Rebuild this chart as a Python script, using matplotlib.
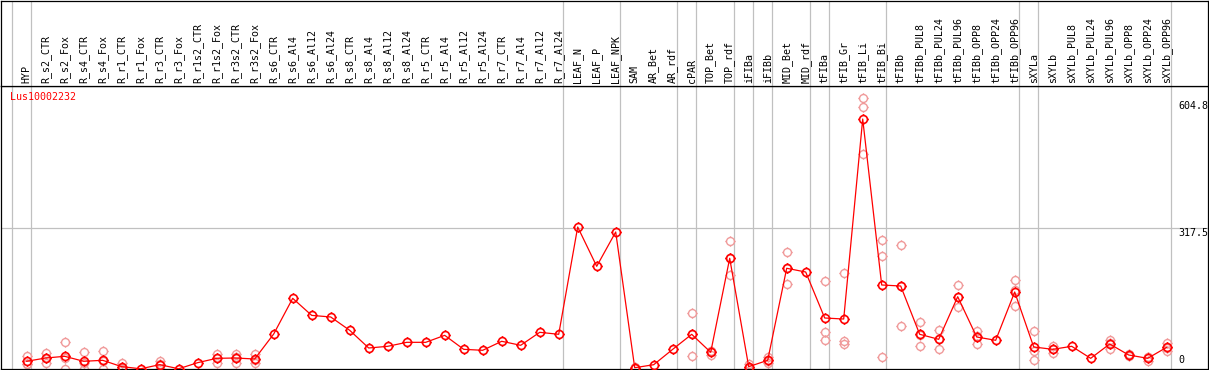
import matplotlib
matplotlib.use("Agg")
import matplotlib.pyplot as plt
from matplotlib.path import Path
import numpy as np

# sample names, in plot order
labels = [
    "HYP", "R_s2_CTR", "R_s2_Fox", "R_s4_CTR", "R_s4_Fox", "R_r1_CTR", "R_r1_Fox",
    "R_r3_CTR", "R_r3_Fox", "R_r1s2_CTR", "R_r1s2_Fox", "R_r3s2_CTR", "R_r3s2_Fox",
    "R_s6_CTR", "R_s6_Al4", "R_s6_Al12", "R_s6_Al24", "R_s8_CTR", "R_s8_Al4",
    "R_s8_Al12", "R_s8_Al24", "R_r5_CTR", "R_r5_Al4", "R_r5_Al12", "R_r5_Al24",
    "R_r7_CTR", "R_r7_Al4", "R_r7_Al12", "R_r7_Al24", "LEAF_N", "LEAF_P", "LEAF_NPK",
    "SAM", "AR_Bet", "AR_rdf", "cPAR", "TOP_Bet", "TOP_rdf", "iFIBa", "iFIBb",
    "MID_Bet", "MID_rdf", "tFIBa", "tFIB_Gr", "tFIB_Li", "tFIB_Bi", "tFIBb",
    "tFIBb_PUL8", "tFIBb_PUL24", "tFIBb_PUL96", "tFIBb_OPP8", "tFIBb_OPP24",
    "tFIBb_OPP96", "sXYLa", "sXYLb", "sXYLb_PUL8", "sXYLb_PUL24", "sXYLb_PUL96",
    "sXYLb_OPP8", "sXYLb_OPP24", "sXYLb_OPP96",
]

# mean expression per sample
means = [
    17.4, 24.8, 28.6, 17.4, 19.6, 5.3, 0.5, 9.8, 0.5, 14.3, 24.1, 24.8, 22.6,
    79.0, 159.5, 121.0, 117.4, 87.3, 47.4, 51.2, 60.2, 60.2, 76.0, 44.4, 42.2,
    62.5, 53.5, 82.8, 78.3, 320.5, 231.8, 309.2,
    2.9, 9.7, 44.4, 78.3, 37.7, 249.8, 5.2, 19.6, 227.3, 218.9, 115.1, 112.8,
    564.2, 189.6, 187.3, 78.3, 67.0, 163.2, 72.2, 64.8, 173.8,
    49.7, 44.4, 51.2, 24.1, 56.4, 31.6, 24.1, 49.0,
]

# individual replicates (index -> values)
replicates = {
    0: [29.3, 11.3, 11.6], 1: [36.8, 12.8, 24.8], 2: [60.2, 0.0, 25.6],
    3: [37.6, 0.0, 14.6], 4: [40.6, 0.0, 18.2], 5: [12.8, 2.0, 1.0],
    7: [18.8, 0.0, 10.6], 10: [33.0, 14.3, 25.0], 11: [33.8, 14.3, 26.3],
    12: [34.6, 12.8, 20.4], 32: [4.0, 2.0, 3.0], 35: [125.7, 29.3, 80.0],
    36: [41.3, 31.6, 40.0], 37: [288.2, 211.5, 249.7], 38: [11.3, 2.0, 2.0],
    39: [27.8, 12.8, 18.2], 40: [263.4, 191.2, 227.3], 42: [197.9, 83.5, 65.4],
    43: [216.0, 63.2, 56.4], 44: [610.9, 592.0, 484.5], 45: [290.5, 254.3, 26.4],
    46: [279.2, 96.4, 186.4], 47: [105.4, 51.9, 77.6], 48: [88.0, 45.8, 67.2],
    49: [188.9, 139.2, 161.5], 50: [85.8, 56.4, 74.4], 52: [200.9, 142.9, 177.6],
    53: [85.8, 39.9, 19.6], 54: [51.9, 35.4, 45.9], 57: [65.4, 45.8, 58.0],
    58: [33.0, 30.0, 31.6], 59: [18.7, 27.0, 26.6], 60: [59.4, 39.9, 47.7],
}

# samples per group, separators drawn after each
group_sizes = [1, 28, 3, 3, 1, 2, 1, 1, 2, 1, 3, 7, 1, 7]
ytick_vals = [0, 317.5, 604.8]
gene = "Lus10002232"

W, H = 1209, 370
X0, DX = 26.7, 19.0           # pixel of first sample, pixel step
HEAD = 85.5                   # header height in px
YMAX = (369 - HEAD) / 0.4431

font = "DejaVu Sans Mono"
fs = 7.2

fig = plt.figure(figsize=(W / 100, H / 100), dpi=100)
xlim = ((1 - X0) / DX, (1208 - X0) / DX)

ax = fig.add_axes([1 / W, 1 / H, 1207 / W, (H - 1 - HEAD) / H])
hd = fig.add_axes([1 / W, (H - HEAD) / H, 1207 / W, (HEAD - 0.5) / H])
for a in (ax, hd):
    a.set_xlim(*xlim)
    a.set_xticks([])
    a.set_yticks([])
    for s in a.spines.values():
        s.set_linewidth(0.9)
        s.set_color("black")
ax.set_ylim(0, YMAX)
hd.set_ylim(0, 1)

# circle marker with four small ticks
circ = Path.unit_circle()
ticks = Path([(1.0, 0), (1.3, 0), (-1.0, 0), (-1.3, 0),
              (0, 1.0), (0, 1.3), (0, -1.0), (0, -1.3)],
             [Path.MOVETO, Path.LINETO] * 4)
mk = Path.make_compound_path(circ, ticks)

# group separators
ends = np.cumsum(group_sizes) - 1
seps = [-1] + list(ends)
for e in seps:
    for a in (ax, hd):
        a.axvline(e + 0.21, color="#c0c0c0", lw=0.9, zorder=0)
ax.axhline(ytick_vals[1], color="#c0c0c0", lw=0.9, zorder=0)

x = np.arange(len(labels))
for i, vals in replicates.items():
    ax.plot([i] * len(vals), vals, ls="none", marker=mk, ms=7.4,
            mfc="none", mec="#f09a9a", mew=1.0, zorder=2)
ax.plot(x, means, color="red", lw=0.9, marker=mk, ms=7.4,
        mfc="none", mec="red", mew=1.2, zorder=3)

# sample labels in header
for i, lab in enumerate(labels):
    hd.text(i, 2.5 / HEAD, lab, rotation=90, ha="center", va="bottom",
            fontsize=fs, family=font, color="black")

# y labels on the right
xl = (1178 - X0) / DX
ax.text(xl, ytick_vals[2], "604.8", ha="left", va="top", fontsize=fs, family=font)
ax.text(xl, ytick_vals[1], "317.5", ha="left", va="top", fontsize=fs, family=font)
ax.text(xl, 8, "0", ha="left", va="bottom", fontsize=fs, family=font)

fig.text(10 / W, 1 - 97 / H, gene, color="red", ha="left", va="center",
         fontsize=fs, family=font)

fig.savefig("out.png", dpi=100)
